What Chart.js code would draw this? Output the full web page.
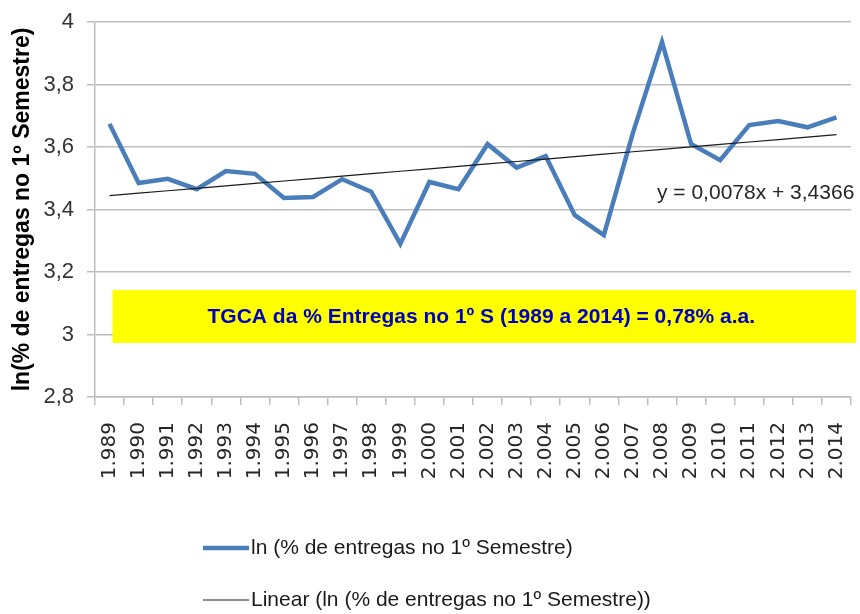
<!DOCTYPE html>
<html>
<head>
<meta charset="utf-8">
<script src="https://cdn.jsdelivr.net/npm/chart.js@4.4.1/dist/chart.umd.min.js"></script>
<style>
  html, body { margin: 0; padding: 0; background: #fff; }
  #wrap { width: 860px; height: 614px; }
</style>
</head>
<body>
<div id="wrap"><canvas id="chart" width="860" height="614"></canvas></div>
<script>
//canvas element
const ctx = document.getElementById('chart').getContext('2d');

/**
 * Graph-data
 */
const years = ["1.989", "1.990", "1.991", "1.992", "1.993", "1.994", "1.995", "1.996", "1.997",
    "1.998", "1.999", "2.000", "2.001", "2.002", "2.003", "2.004", "2.005", "2.006", "2.007",
    "2.008", "2.009", "2.010", "2.011", "2.012", "2.013", "2.014"];
const lnEntregas = [3.674, 3.485, 3.498, 3.465, 3.523, 3.514, 3.437, 3.440, 3.497,
    3.457, 3.290, 3.488, 3.465, 3.609, 3.534, 3.571, 3.382, 3.318, 3.645,
    3.936, 3.610, 3.558, 3.670, 3.683, 3.663, 3.695];
// trend line (y = 0,0078x + 3,4366)
const trendValues = [3.4444, 3.4522, 3.4600, 3.4678, 3.4756, 3.4834, 3.4912, 3.4990, 3.5068,
    3.5146, 3.5224, 3.5302, 3.5380, 3.5458, 3.5536, 3.5614, 3.5692, 3.5770, 3.5848,
    3.5926, 3.6004, 3.6082, 3.6160, 3.6238, 3.6316, 3.6394];
const yTicks = [2.8, 3, 3.2, 3.4, 3.6, 3.8, 4];

/**
 * Texts
 */
const labelSeries = "ln (% de entregas no 1º Semestre)";
const labelTrend = "Linear (ln (% de entregas no 1º Semestre))";
const yTitle = "ln(% de entregas no 1º Semestre)";
const equationText = "y = 0,0078x + 3,4366";
const boxText = "TGCA da % Entregas no 1º S (1989 a 2014) = 0,78% a.a.";

const textFont = "'Liberation Sans', Arial, sans-serif";
const gridColor = '#bdbdbd';

/**
 * Draws the yellow box, the trend equation and the legend on top of the chart
 */
const extras = {
    id: 'extras',
    afterDraw(chart) {
        const c = chart.ctx;
        const x = chart.scales.x;
        const y = chart.scales.y;
        c.save();

        //yellow box
        const bx = x.getPixelForValue(0) + 3;
        const by = y.getPixelForValue(3.142);
        const bh = y.getPixelForValue(2.973) - by;
        const bw = chart.width - 4 - bx;
        c.fillStyle = '#ffff00';
        c.fillRect(bx, by, bw, bh);
        c.fillStyle = '#0000c0';
        c.font = "bold 21px " + textFont;
        c.textAlign = 'center';
        c.textBaseline = 'middle';
        c.fillText(boxText, bx + bw / 2 - 3, by + bh / 2 + 1);

        //equation
        c.fillStyle = '#262626';
        c.font = "21px " + textFont;
        c.textAlign = 'left';
        c.textBaseline = 'middle';
        c.fillText(equationText, x.getPixelForValue(19) - 5, y.getPixelForValue(3.452));

        //legend
        const rows = [chart.data.datasets[0], chart.data.datasets[1]];
        let ly = 548;
        rows.forEach((ds) => {
            c.strokeStyle = ds.borderColor;
            c.lineWidth = ds.borderWidth;
            c.beginPath();
            c.moveTo(203, ly);
            c.lineTo(249, ly);
            c.stroke();
            c.fillStyle = '#1a1a1a';
            c.font = "21px " + textFont;
            c.textAlign = 'left';
            c.textBaseline = 'middle';
            c.fillText(ds.label, 251, ly);
            ly += 52;
        });
        c.restore();
    }
};

new Chart(ctx, {
    type: 'line',
    data: {
        labels: years,
        datasets: [{
            label: labelSeries,
            data: lnEntregas,
            borderColor: '#4a7ebb',
            backgroundColor: '#4a7ebb',
            borderWidth: 4.5,
            pointRadius: 0,
            tension: 0,
            order: 1
        }, {
            label: labelTrend,
            data: trendValues,
            borderColor: '#1a1a1a',
            backgroundColor: '#1a1a1a',
            borderWidth: 1.2,
            pointRadius: 0,
            tension: 0,
            order: 0
        }]
    },
    options: {
        responsive: false,
        animation: false,
        devicePixelRatio: 1,
        layout: { padding: { top: 22, right: 9, left: 0, bottom: 0 } },
        plugins: {
            legend: { display: false },
            tooltip: { enabled: false }
        },
        scales: {
            x: {
                offset: true,
                grid: {
                    offset: true,
                    drawOnChartArea: false,
                    drawTicks: true,
                    tickLength: 8,
                    color: gridColor,
                    lineWidth: 1.5
                },
                border: { color: gridColor, width: 1.5 },
                ticks: {
                    autoSkip: false,
                    minRotation: 90,
                    maxRotation: 90,
                    padding: 17,
                    color: '#262626',
                    font: { family: "'DejaVu Sans', Verdana, sans-serif", size: 20 }
                },
                afterFit: (scale) => {
                    scale.height = 217;
                    scale.paddingLeft = 0;
                    scale.paddingRight = 0;
                }
            },
            y: {
                min: 2.8,
                max: 4,
                afterBuildTicks: (scale) => { scale.ticks = yTicks.map(v => ({ value: v })); },
                grid: {
                    color: gridColor,
                    lineWidth: 1.5,
                    tickLength: 8
                },
                border: { color: gridColor, width: 1.5 },
                ticks: {
                    padding: 13,
                    color: '#333',
                    font: { family: textFont, size: 22 },
                    callback: (v) => String(Number(v.toFixed(1))).replace('.', ',')
                },
                title: {
                    display: true,
                    text: yTitle,
                    color: '#000',
                    font: { family: textFont, size: 23, weight: 'bold' },
                    padding: { top: 9, bottom: 0 }
                },
                afterFit: (scale) => {
                    scale.width = 95;
                    scale.paddingTop = 0;
                    scale.paddingBottom = 0;
                }
            }
        }
    },
    plugins: [extras]
});
</script>
</body>
</html>
